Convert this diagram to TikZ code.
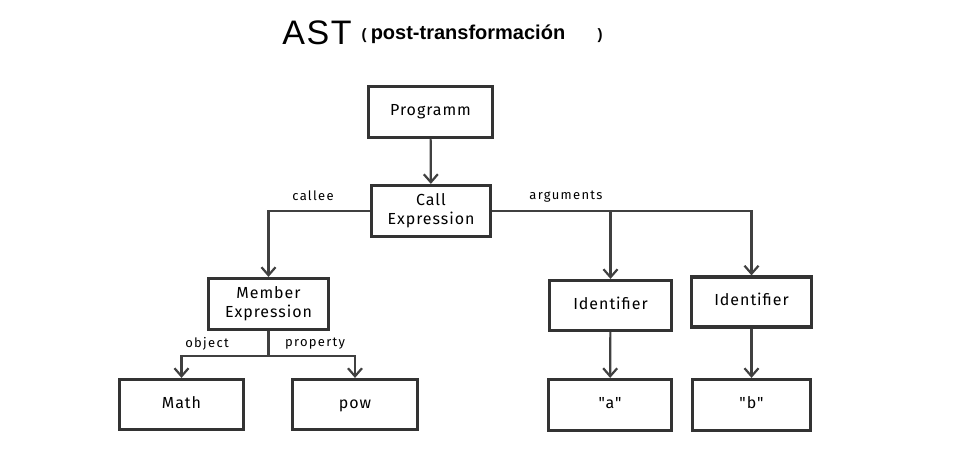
\documentclass[tikz,border=0pt]{standalone}
\usepackage{fontspec}
\setmainfont{Liberation Sans}
\newfontfamily\boxfont[LetterSpace=6]{Fira Sans}
\newfontfamily\labfont[LetterSpace=10]{Fira Sans}
\usetikzlibrary{arrows.meta}
\definecolor{boxgray}{HTML}{333333}
\definecolor{linegray}{HTML}{404040}
\begin{document}
\begin{tikzpicture}[x=1pt,y=-1pt,
  box/.style={draw=boxgray, line width=3.2pt, fill=white, font=\boxfont\fontsize{16}{19}\selectfont, align=center, inner sep=0pt},
  conn/.style={draw=linegray, line width=2.2pt},
  arr/.style={conn, -{Straight Barb[length=8pt,width=14pt,line width=2.2pt]}},
  lab/.style={font=\labfont\fontsize{13}{15}\selectfont, text=black}]
\useasboundingbox (0,0) rectangle (960,452);
\fill[white] (0,0) rectangle (960,452);
% title
\node[font=\fontsize{34}{36}\selectfont, inner sep=0pt] (ast) at (317,33) {A\kern1.5pt S\kern1.5pt T};
\node[font=\fontsize{15}{17}\selectfont\bfseries, inner sep=0pt] (lp) at (364,36) {(};
\node[font=\fontsize{20}{22}\selectfont\bfseries, inner sep=0pt] (sub) at (468,34) {post-transformación};
\node[font=\fontsize{15}{17}\selectfont\bfseries, inner sep=0pt] (rp) at (600,36) {)};
% boxes
\node[box, minimum width=124pt, minimum height=51pt] (prog) at (430.5,112) {\strut Programm};
\node[box, minimum width=119pt, minimum height=51pt] (call) at (431,211) {\strut Call\\\strut Expression};
\node[box, minimum width=120pt, minimum height=51pt] (member) at (268.5,304) {\strut Member\\\strut Expression};
\node[box, minimum width=122pt, minimum height=50pt] (id1) at (610.5,305.5) {\strut Identifier};
\node[box, minimum width=120pt, minimum height=50pt] (id2) at (751.5,302) {\strut Identifier};
\node[box, minimum width=124pt, minimum height=50pt] (math) at (181.5,404.5) {\strut Math};
\node[box, minimum width=125pt, minimum height=50pt] (pow) at (355,404.5) {\strut pow};
\node[box, minimum width=123pt, minimum height=51pt] (a) at (610,405) {\strut "a"};
\node[box, minimum width=118pt, minimum height=51pt] (b) at (751.5,405) {\strut "b"};
% connectors
\draw[arr] (prog) -- (call);
\draw[arr] (call.west) -| (member.north);
\draw[arr] (call.east) -| (id2.north);
\draw[arr] (id1.north |- call.east) -- (id1.north);
\coordinate (mj) at (268.5,356);
\draw[conn] (member.south) -- (mj);
\draw[arr] (mj) -| (math.north);
\draw[arr] (mj) -| (pow.north);
\draw[arr] (id1) -- (a);
\draw[arr] (id2) -- (b);
% labels
\node[lab] (lcallee) at (313,196) {callee};
\node[lab] (largs) at (566,197) {arguments};
\node[lab] (lobj) at (207,344) {object};
\node[lab] (lprop) at (315,344) {property};
\end{tikzpicture}
\end{document}
